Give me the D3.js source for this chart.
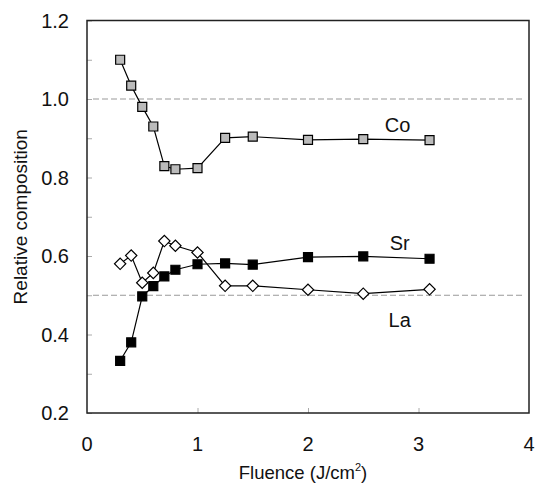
<!DOCTYPE html>
<html>
<head>
<meta charset="utf-8">
<script src="https://cdn.jsdelivr.net/npm/d3@7"></script>
<style>
  body { margin: 0; background: #fff; }
  svg text { font-family: 'Liberation Sans', Arial, sans-serif; fill: #111; }
</style>
</head>
<body>
<svg id="chart" width="538" height="491"></svg>
<script>
// fluence values (J/cm2), same for all three elements
const fluence = [0.3, 0.4, 0.5, 0.6, 0.7, 0.8, 1.0, 1.25, 1.5, 2.0, 2.5, 3.1];
const coValues = [1.10, 1.034, 0.980, 0.930, 0.829, 0.821, 0.824, 0.901, 0.904, 0.896, 0.898, 0.895];
const srValues = [0.333, 0.380, 0.497, 0.523, 0.548, 0.565, 0.579, 0.581, 0.578, 0.597, 0.599, 0.593];
const laValues = [0.580, 0.601, 0.532, 0.557, 0.638, 0.626, 0.609, 0.524, 0.524, 0.514, 0.504, 0.515];
const xTicks = [0, 1, 2, 3, 4];
const yTicks = [0.2, 0.4, 0.6, 0.8, 1.0, 1.2];
const yMinor = [0.3, 0.5, 0.7, 0.9, 1.1];
const refLines = [1.0, 0.5];

let svg = d3.select('#chart'),
  margin = {top: 20.5, right: 9, bottom: 78, left: 87},
  width = +svg.attr('width') - margin.left - margin.right,
  height = +svg.attr('height') - margin.top - margin.bottom;

let x = d3.scaleLinear().domain([0, 4]).range([0, width]);
let y = d3.scaleLinear().domain([0.2, 1.2]).range([height, 0]);

let g = svg.append('g').attr('transform', 'translate(' + margin.left + ',' + margin.top + ')');

// dashed reference lines
g.selectAll('.ref')
  .data(refLines)
  .enter().append('line')
  .attr('x1', 6).attr('x2', width - 6)
  .attr('y1', d => y(d)).attr('y2', d => y(d))
  .attr('stroke', '#999').attr('stroke-width', 1)
  .attr('stroke-dasharray', '6,3');

// inner ticks
let yAxis = d3.axisLeft(y).tickValues(yTicks.concat(yMinor)).tickSize(-5).tickFormat('');
g.append('g').call(yAxis)
  .call(a => a.select('.domain').remove())
  .selectAll('line').attr('stroke', '#aaa');

let xAxis = d3.axisBottom(x).tickValues([1, 2, 3]).tickSize(-5).tickFormat('');
g.append('g').attr('transform', 'translate(0,' + height + ')').call(xAxis)
  .call(a => a.select('.domain').remove())
  .selectAll('line').attr('stroke', '#aaa');

// tick labels
g.selectAll('.ylab')
  .data(yTicks)
  .enter().append('text')
  .attr('x', -18).attr('y', d => y(d) + 7)
  .attr('text-anchor', 'end')
  .attr('font-size', 20)
  .text(d => d.toFixed(1));

g.selectAll('.xlab')
  .data(xTicks)
  .enter().append('text')
  .attr('x', d => x(d)).attr('y', height + 38)
  .attr('text-anchor', 'middle')
  .attr('font-size', 20)
  .text(d => d);

// frame
g.append('rect')
  .attr('width', width).attr('height', height)
  .attr('fill', 'none').attr('stroke', '#222').attr('stroke-width', 1.5);

// series
let series = [
  {name: 'Co', values: coValues, size: 81, fill: '#bbb', rot: 0},
  {name: 'Sr', values: srValues, size: 81, fill: '#000', rot: 0},
  {name: 'La', values: laValues, size: 64, fill: '#fff', rot: 45}
];

let line = d3.line().x(d => x(d[0])).y(d => y(d[1]));

series.forEach(function(s) {
  let pts = fluence.map((f, i) => [f, s.values[i]]);
  g.append('path')
    .attr('d', line(pts))
    .attr('fill', 'none').attr('stroke', '#000').attr('stroke-width', 1.2);
  g.selectAll('.pt-' + s.name)
    .data(pts)
    .enter().append('path')
    .attr('transform', d => 'translate(' + x(d[0]) + ',' + y(d[1]) + ') rotate(' + s.rot + ')')
    .attr('d', d3.symbol().type(d3.symbolSquare).size(s.size))
    .attr('fill', s.fill).attr('stroke', '#000').attr('stroke-width', 1.2);
});

// element labels
let labels = [
  {text: 'Co', fx: 2.81, v: 0.916},
  {text: 'Sr', fx: 2.83, v: 0.615},
  {text: 'La', fx: 2.83, v: 0.419}
];
g.selectAll('.elab')
  .data(labels)
  .enter().append('text')
  .attr('x', d => x(d.fx)).attr('y', d => y(d.v))
  .attr('text-anchor', 'middle')
  .attr('font-size', 20)
  .text(d => d.text);

// axis titles
let xt = svg.append('text')
  .attr('x', margin.left + width / 2 - 5).attr('y', 479)
  .attr('text-anchor', 'middle')
  .attr('font-size', 18.5);
xt.append('tspan').text('Fluence (J/cm');
xt.append('tspan').attr('font-size', 11).attr('dy', -8).text('2');
xt.append('tspan').attr('dy', 8).text(')');

svg.append('text')
  .attr('transform', 'translate(27,' + (margin.top + height / 2) + ') rotate(-90)')
  .attr('text-anchor', 'middle')
  .attr('font-size', 19)
  .text('Relative composition');
</script>
</body>
</html>
